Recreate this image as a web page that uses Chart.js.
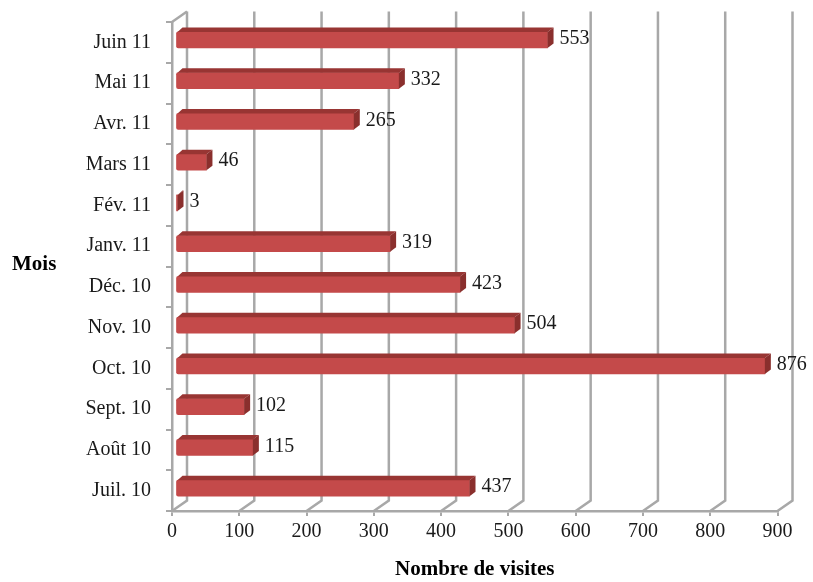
<!DOCTYPE html>
<html>
<head>
<meta charset="utf-8">
<style>html,body{margin:0;padding:0;background:#fff}canvas{display:block}</style>
<script src="https://cdn.jsdelivr.net/npm/chart.js@4"></script>
</head>
<body>
<canvas id="c" width="813" height="582"></canvas>
<script>
const categories = ['Juin 11','Mai 11','Avr. 11','Mars 11','Fév. 11','Janv. 11','Déc. 10','Nov. 10','Oct. 10','Sept. 10','Août 10','Juil. 10'];
const visits = [553,332,265,46,3,319,423,504,876,102,115,437];
const xTitle = 'Nombre de visites';
const yTitle = 'Mois';

const SERIF = '"Liberation Serif", serif';
const GREY = '#a8a8a8';
const DX = 15, DY = 10.5;      // depth of the wall
const BX = 3.5, BY = -2.5;     // bar shift from the axis
const SX = 6, SY = 4.5;        // depth of each bar

const walls = {
  id: 'walls',
  beforeDatasetsDraw(chart) {
    const {ctx, chartArea: a, scales: {x}} = chart;
    ctx.save();
    ctx.strokeStyle = GREY;
    ctx.lineWidth = 2.5;
    x.ticks.forEach(t => {
      const px = x.getPixelForValue(t.value);
      ctx.beginPath();
      ctx.moveTo(px, a.bottom);
      ctx.lineTo(px + DX, a.bottom - DY);
      ctx.lineTo(px + DX, a.top - DY);
      ctx.stroke();
    });
    ctx.beginPath();
    ctx.moveTo(a.left, a.top);
    ctx.lineTo(a.left + DX, a.top - DY);
    ctx.stroke();
    ctx.restore();
  },
  beforeDatasetDraw(chart) {
    chart.ctx.save();
    chart.ctx.translate(BX, BY);
  },
  afterDatasetDraw(chart, args) {
    const ctx = chart.ctx;
    args.meta.data.forEach(el => {
      const h = el.height / 2;
      const top = el.y - h, bot = el.y + h;
      const l = el.base, r = el.x;
      ctx.fillStyle = '#983533';
      ctx.beginPath();
      ctx.moveTo(l + 1, top);
      ctx.lineTo(l + SX, top - SY);
      ctx.lineTo(r + SX, top - SY);
      ctx.lineTo(r, top);
      ctx.closePath();
      ctx.fill();
      ctx.fillStyle = '#8a2f2d';
      ctx.beginPath();
      ctx.moveTo(r, top);
      ctx.lineTo(r + SX, top - SY);
      ctx.lineTo(r + SX, bot - SY);
      ctx.lineTo(r, bot);
      ctx.closePath();
      ctx.fill();
    });
    ctx.restore();
  },
  afterDatasetsDraw(chart) {
    const ctx = chart.ctx;
    const meta = chart.getDatasetMeta(0);
    ctx.save();
    ctx.font = '20px ' + SERIF;
    ctx.fillStyle = '#1a1a1a';
    ctx.textBaseline = 'middle';
    ctx.textAlign = 'left';
    meta.data.forEach((el, i) => {
      ctx.fillText(String(visits[i]), el.x + BX + SX + 6, el.y + BY - 1);
    });
    ctx.font = 'bold 21px ' + SERIF;
    ctx.fillStyle = '#000';
    ctx.fillText(yTitle, 12, 265);
    ctx.restore();
  }
};

new Chart(document.getElementById('c'), {
  type: 'bar',
  data: {
    labels: categories,
    datasets: [{
      data: visits,
      backgroundColor: '#c44a4a',
      borderRadius: {topLeft: 2, bottomLeft: 2, topRight: 0, bottomRight: 0},
      borderSkipped: false,
      barThickness: 16,
      label: xTitle
    }]
  },
  plugins: [walls],
  options: {
    indexAxis: 'y',
    responsive: false,
    devicePixelRatio: 1,
    animation: false,
    layout: {padding: {left: 0, right: 35.5, top: 22, bottom: 0}},
    plugins: {legend: {display: false}, tooltip: {enabled: false}},
    scales: {
      x: {
        min: 0, max: 900,
        afterFit(s) { s.height = 71; s.paddingLeft = 0; s.paddingRight = 0; },
        ticks: {stepSize: 100, font: {size: 20, family: SERIF}, color: '#1a1a1a', padding: 4, maxRotation: 0},
        grid: {drawOnChartArea: false, drawTicks: true, tickLength: 5, color: GREY, lineWidth: 2},
        border: {color: GREY, width: 2.5},
        title: {display: true, text: xTitle, font: {size: 21, weight: 'bold', family: SERIF}, color: '#000', padding: {top: 7, bottom: 0}}
      },
      y: {
        afterFit(s) { s.width = 172; s.paddingTop = 0; s.paddingBottom = 0; },
        ticks: {font: {size: 20, family: SERIF}, color: '#1a1a1a', padding: 15},
        grid: {drawOnChartArea: false, drawTicks: true, tickLength: 6, color: GREY, lineWidth: 2},
        border: {color: GREY, width: 2.5}
      }
    }
  }
});
</script>
</body>
</html>
